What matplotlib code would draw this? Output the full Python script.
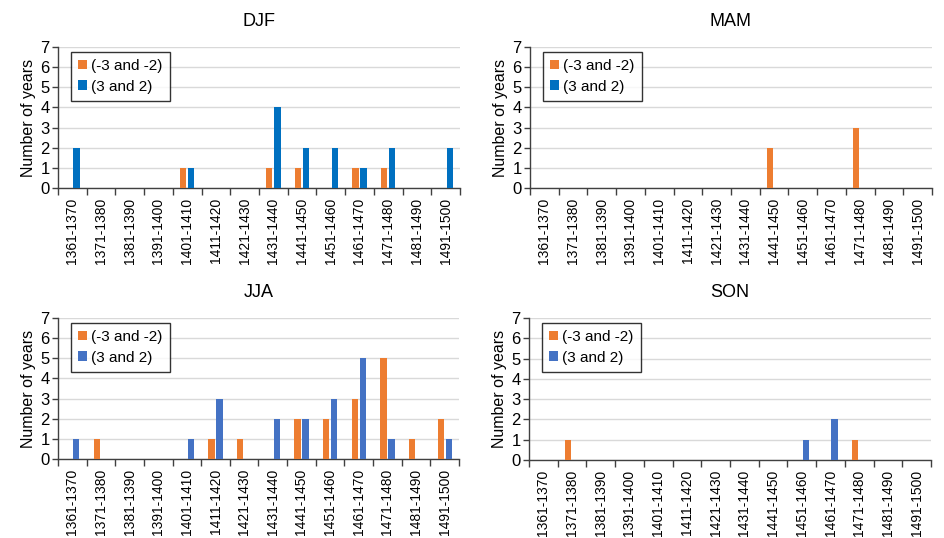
import numpy as np
import matplotlib.pyplot as plt

plt.rcParams['font.family'] = ['Liberation Sans', 'DejaVu Sans']

decades = ['1361-1370', '1371-1380', '1381-1390', '1391-1400', '1401-1410',
           '1411-1420', '1421-1430', '1431-1440', '1441-1450', '1451-1460',
           '1461-1470', '1471-1480', '1481-1490', '1491-1500']

djf_neg = [0, 0, 0, 0, 1, 0, 0, 1, 1, 0, 1, 1, 0, 0]
djf_pos = [2, 0, 0, 0, 1, 0, 0, 4, 2, 2, 1, 2, 0, 2]
mam_neg = [0, 0, 0, 0, 0, 0, 0, 0, 2, 0, 0, 3, 0, 0]
mam_pos = [0, 0, 0, 0, 0, 0, 0, 0, 0, 0, 0, 0, 0, 0]
jja_neg = [0, 1, 0, 0, 0, 1, 1, 0, 2, 2, 3, 5, 1, 2]
jja_pos = [1, 0, 0, 0, 1, 3, 0, 2, 2, 3, 5, 1, 0, 1]
son_neg = [0, 1, 0, 0, 0, 0, 0, 0, 0, 0, 0, 1, 0, 0]
son_pos = [0, 0, 0, 0, 0, 0, 0, 0, 0, 1, 2, 0, 0, 0]

panels = [('DJF', djf_neg, djf_pos, '#0070C0'),
          ('MAM', mam_neg, mam_pos, '#0070C0'),
          ('JJA', jja_neg, jja_pos, '#4472C4'),
          ('SON', son_neg, son_pos, '#4472C4')]

W, H = 945, 538
fig = plt.figure(figsize=(W / 100, H / 100), dpi=100)

# axes boxes in pixels: left, top, right, bottom
boxes = [(58, 47, 460, 188), (530, 47, 932, 188),
         (58, 318, 459, 459), (529, 318, 931, 460)]

x = np.arange(len(decades))
bw = 0.22
off = 0.14

for (name, neg, pos, bcol), (l, t, r, b) in zip(panels, boxes):
    ax = fig.add_axes([l / W, 1 - b / H, (r - l) / W, (b - t) / H])
    ax.bar(x - off, neg, bw, color='#ED7D31', label='(-3 and -2)', zorder=3)
    ax.bar(x + off, pos, bw, color=bcol, label='(3 and 2)', zorder=3)
    ax.set_xlim(-0.5, len(decades) - 0.5)
    ax.set_ylim(0, 7)
    ax.set_yticks(range(8))
    ax.yaxis.grid(True, color='#D9D9D9', lw=1)
    ax.set_axisbelow(True)
    ax.set_xticks(x)
    ax.set_xticklabels(decades, rotation=90, fontsize=10)
    ax.set_xticks(np.arange(len(decades) + 1) - 0.5, minor=True)
    ax.tick_params(axis='x', which='major', length=0, pad=7)
    ax.tick_params(axis='x', which='minor', length=5, width=1, color='#404040', direction='out')
    ax.tick_params(axis='y', length=4, width=1, color='#404040', labelsize=12, pad=2)
    for s in ['top', 'right']:
        ax.spines[s].set_visible(False)
    for s in ['left', 'bottom']:
        ax.spines[s].set_color('#404040')
        ax.spines[s].set_linewidth(1)
    ax.set_ylabel('Number of years', fontsize=11.5, labelpad=3)
    ax.set_title(name, fontsize=13, pad=15)
    leg = ax.legend(loc='upper left', bbox_to_anchor=(0.032, 0.965), borderaxespad=0,
                    fontsize=11, frameon=True, fancybox=False, edgecolor='black',
                    handlelength=0.6, handleheight=0.6, handletextpad=0.3,
                    borderpad=0.45, labelspacing=0.45)
    leg.get_frame().set_linewidth(1)

fig.savefig('out.png', dpi=100)
